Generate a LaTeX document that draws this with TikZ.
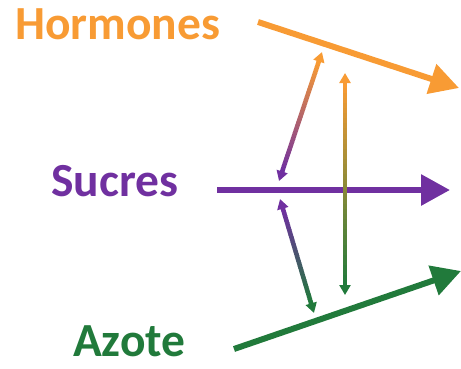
\documentclass[tikz,border=0pt]{standalone}
\usepackage{fontspec}
\setmainfont{Carlito}
\usetikzlibrary{calc,arrows.meta}
\definecolor{horm}{RGB}{248,155,52}
\definecolor{sucr}{RGB}{112,48,160}
\definecolor{azot}{RGB}{33,122,59}
\tikzset{
  label text/.style={anchor=base west, inner sep=0pt, font=\fontsize{47.5}{52}\selectfont\bfseries},
  main arrow/.style={line width=6pt, -{Triangle[length=29pt,width=30pt]}},
  small tip/.style={line width=4.5pt, -{Triangle[length=10pt,width=11pt]}},
}
% gradient link between two coordinates: #1 start, #2 end, #3 start colour, #4 end colour
\newcommand\gradlink[4]{%
  \coordinate (gA) at ($(#1)!10pt!(#2)$);
  \coordinate (gB) at ($(#2)!10pt!(#1)$);
  \foreach \i in {0,...,39}{%
    \pgfmathtruncatemacro\pc{100*\i/39}%
    \colorlet{segcol}{#4!\pc!#3}%
    \draw[segcol, line width=4.5pt] ($(gA)!\i/40!(gB)$) -- ($(gA)!\i/40+0.03!(gB)$);
  }
  \draw[#3, small tip] ($(#1)!11pt!(#2)$) -- (#1);
  \draw[#4, small tip] ($(#2)!11pt!(#1)$) -- (#2);
}
\begin{document}
\begin{tikzpicture}[x=1pt,y=-1pt]
  \useasboundingbox (0,0) rectangle (461,368);
  % labels
  \node[label text, text=horm] (hormones) at (15,39) {Hormones};
  \node[label text, text=sucr] (sucres) at (51,196) {Sucres};
  \node[label text, text=azot] (azote) at (73,356) {Azote};
  % main arrows
  \coordinate (h1) at (258,22);  \coordinate (h2) at (459,88);
  \coordinate (s1) at (217,190); \coordinate (s2) at (450,190);
  \coordinate (a1) at (234,349); \coordinate (a2) at (461,271);
  \draw[horm, main arrow] (h1) -- (h2);
  \draw[sucr, main arrow] (s1) -- (s2);
  \draw[azot, main arrow] (a1) -- (a2);
  % interaction links
  \coordinate (hs1) at (322,52);  \coordinate (hs2) at (279,181);
  \coordinate (ha1) at (345,73);  \coordinate (ha2) at (345,295);
  \coordinate (sa1) at (280,199); \coordinate (sa2) at (314,313);
  \gradlink{hs1}{hs2}{horm}{sucr}
  \gradlink{ha1}{ha2}{horm}{azot}
  \gradlink{sa1}{sa2}{sucr}{azot}
\end{tikzpicture}
\end{document}
